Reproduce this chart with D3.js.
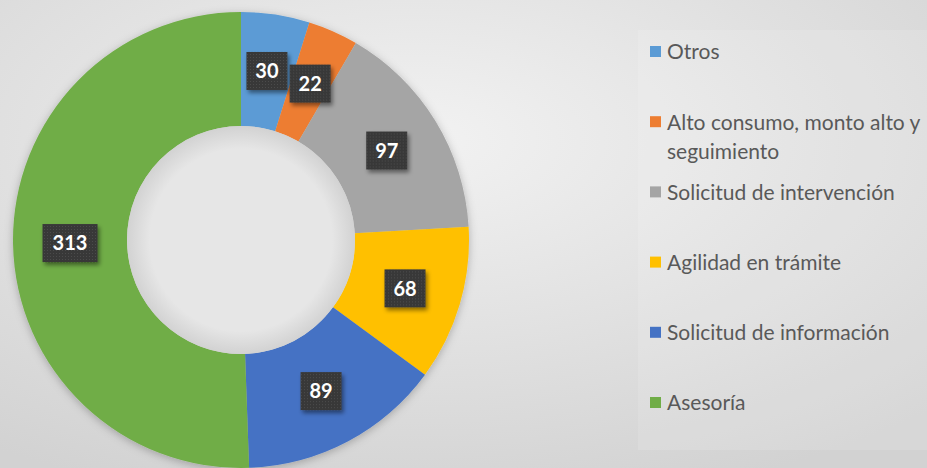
<!DOCTYPE html>
<html>
<head>
<meta charset="utf-8">
<script src="https://cdn.jsdelivr.net/npm/d3@7"></script>
<style>
  html, body { margin: 0; padding: 0; background: #e4e4e4; }
  svg { display: block; }
</style>
</head>
<body>
<div id="chart"></div>
<script>
// data
var categories = ["Otros", "Alto consumo, monto alto y seguimiento", "Solicitud de intervención",
                  "Agilidad en trámite", "Solicitud de información", "Asesoría"];
var values = [30, 22, 97, 68, 89, 313];
var colors = ["#5b9bd5", "#ed7d31", "#a5a5a5", "#ffc000", "#4472c4", "#70ad47"];
// legend text lines (Excel wraps the long one)
var legendLines = [["Otros"], ["Alto consumo, monto alto y", "seguimiento"], ["Solicitud de intervención"],
                   ["Agilidad en trámite"], ["Solicitud de información"], ["Asesoría"]];

var W = 927, H = 468;
var cx = 241, cy = 240, outerR = 228, innerR = 114;

var svg = d3.select("#chart").append("svg")
	.attr("width", W)
	.attr("height", H);

var defs = svg.append("defs");

// background gradient
var bg = defs.append("radialGradient")
	.attr("id", "bg")
	.attr("cx", "0.45").attr("cy", "0.3").attr("r", "0.8");
bg.append("stop").attr("offset", "0").attr("stop-color", "#f2f2f2");
bg.append("stop").attr("offset", "1").attr("stop-color", "#d2d2d2");

// hole shading
var hole = defs.append("radialGradient")
	.attr("id", "hole")
	.attr("cx", "0.5").attr("cy", "0.5").attr("r", "0.5");
hole.append("stop").attr("offset", "0.8").attr("stop-color", "#e6e6e6");
hole.append("stop").attr("offset", "1").attr("stop-color", "#d2d2d2");

// dotted texture on the label boxes
var pat = defs.append("pattern")
	.attr("id", "dots")
	.attr("width", 3).attr("height", 3)
	.attr("patternUnits", "userSpaceOnUse");
pat.append("rect").attr("width", 3).attr("height", 3).attr("fill", "#383838");
pat.append("rect").attr("x", 1).attr("y", 1).attr("width", 1).attr("height", 1).attr("fill", "#4d4d4d");

var shadow = defs.append("filter")
	.attr("id", "shadow")
	.attr("x", "-30%").attr("y", "-30%").attr("width", "170%").attr("height", "170%");
shadow.append("feDropShadow")
	.attr("dx", 2).attr("dy", 3).attr("stdDeviation", 2)
	.attr("flood-color", "#000").attr("flood-opacity", 0.45);

var ringShadow = defs.append("filter")
	.attr("id", "ringShadow")
	.attr("x", "-10%").attr("y", "-10%").attr("width", "120%").attr("height", "120%");
ringShadow.append("feDropShadow")
	.attr("dx", 0).attr("dy", 2).attr("stdDeviation", 4)
	.attr("flood-color", "#000").attr("flood-opacity", 0.25);

svg.append("rect")
	.attr("width", W).attr("height", H)
	.attr("fill", "url(#bg)");

// legend panel
svg.append("rect")
	.attr("x", 638).attr("y", 30)
	.attr("width", W - 638).attr("height", 420)
	.attr("fill", "#ffffff").attr("fill-opacity", 0.12);

var data = categories.map(function (c, i) { return { name: c, value: values[i], color: colors[i] }; });

var pie = d3.pie()
	.sort(null)
	.value(function (d) { return d.value; });

var arc = d3.arc()
	.innerRadius(innerR)
	.outerRadius(outerR);

var g = svg.append("g")
	.attr("transform", "translate(" + cx + "," + cy + ")");

var arcs = pie(data);

g.append("g")
	.attr("filter", "url(#ringShadow)")
	.selectAll("path")
	.data(arcs)
	.enter()
	.append("path")
	.attr("d", arc)
	.attr("fill", function (d) { return d.data.color; });

g.append("circle")
	.attr("r", innerR)
	.attr("fill", "url(#hole)");

// value labels
var labels = g.selectAll(".lbl")
	.data(arcs)
	.enter()
	.append("g")
	.attr("class", "lbl")
	.attr("transform", function (d) {
		var c = arc.centroid(d);
		return "translate(" + c[0] + "," + c[1] + ")";
	});

labels.append("rect")
	.attr("x", function (d) { var w = String(d.data.value).length > 2 ? 55 : 41; return -w / 2; })
	.attr("y", -19)
	.attr("width", function (d) { return String(d.data.value).length > 2 ? 55 : 41; })
	.attr("height", 38)
	.attr("fill", "url(#dots)")
	.attr("filter", "url(#shadow)");

labels.append("text")
	.attr("text-anchor", "middle")
	.attr("dy", "0.36em")
	.attr("fill", "#ffffff")
	.style("font-family", "Lato, 'Open Sans', sans-serif")
	.style("font-weight", "bold")
	.style("font-size", "20px")
	.text(function (d) { return d.data.value; });

// legend
var legend = svg.append("g")
	.selectAll("g")
	.data(data)
	.enter()
	.append("g")
	.attr("transform", function (d, i) { return "translate(650," + (52 + i * 70.2) + ")"; });

legend.append("rect")
	.attr("x", 0).attr("y", -6)
	.attr("width", 11).attr("height", 11)
	.attr("fill", function (d) { return d.color; });

legend.append("text")
	.attr("x", 17)
	.style("font-family", "Lato, 'Open Sans', sans-serif")
	.style("font-size", "21px")
	.attr("fill", "#595959")
	.selectAll("tspan")
	.data(function (d, i) { return legendLines[i]; })
	.enter()
	.append("tspan")
	.attr("x", 17)
	.attr("dy", function (d, i) { return i === 0 ? "0.35em" : "1.4em"; })
	.text(function (d) { return d; });
</script>
</body>
</html>
